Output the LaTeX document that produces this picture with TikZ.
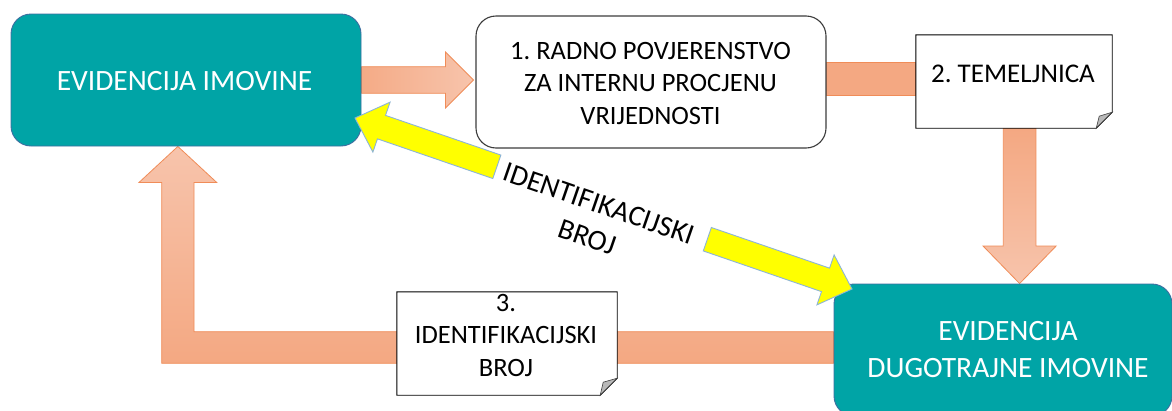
\documentclass[tikz,border=0pt]{standalone}
\usepackage{fontspec}
\setmainfont{Carlito}
\usetikzlibrary{calc}
\definecolor{teal1}{RGB}{0,164,166}
\definecolor{tealborder}{RGB}{62,110,160}
\definecolor{salmon}{RGB}{244,168,130}
\definecolor{peachlight}{RGB}{247,196,172}
\definecolor{orangeline}{RGB}{240,140,88}
\definecolor{yel}{RGB}{255,255,0}
\definecolor{yelline}{RGB}{140,180,215}
\definecolor{boxline}{RGB}{60,60,60}
\definecolor{foldgray}{RGB}{185,185,185}
\pgfdeclarelayer{bg}\pgfdeclarelayer{arrows}\pgfdeclarelayer{front}
\pgfsetlayers{bg,arrows,main,front}
\frenchspacing
\begin{document}
\begin{tikzpicture}[x=1pt,y=-1pt,
  tealbox/.style={rectangle, rounded corners=20pt, fill=teal1, draw=tealborder, line width=0.9pt, inner sep=0pt, minimum width=#1},
  whitebox/.style={rectangle, rounded corners=20pt, fill=white, draw=boxline, line width=1.1pt, inner sep=0pt, minimum width=350pt, minimum height=132pt},
  anchorbox/.style={rectangle, inner sep=0pt},
  docshape/.style={fill=white, draw=black, line width=0.9pt},
  docfold/.style={fill=foldgray, draw=black!75, line width=0.6pt},
  whitetext/.style={text=white, align=center, inner sep=0pt, font=\fontsize{29.5}{36.3}\selectfont},
  blacktext/.style={text=black, align=center, inner sep=0pt, font=\fontsize{26.5}{32.8}\selectfont},
  labeltext/.style={text=black, align=center, inner sep=0pt, font=\fontsize{29}{35.7}\selectfont},
  salmonbar/.style={fill=salmon, draw=orangeline, line width=0.8pt},
  yellowarrow/.style={fill=yel, draw=yelline, line width=0.9pt, line join=miter},
]
\begin{pgfonlayer}{bg}
\fill[white] (0,0) rectangle (1172,410);
\end{pgfonlayer}
\useasboundingbox (0,0) rectangle (1172,410);

% boxes
\node[tealbox=350pt, minimum height=132pt] (A) at (186,80) {};
\node[whitebox] (B) at (651,82) {};
\node[anchorbox, minimum width=196pt, minimum height=93pt] (C) at (1014,81.5) {};
\node[tealbox=338pt, minimum height=132pt] (D) at (1003,350) {};
\node[anchorbox, minimum width=220pt, minimum height=103pt] (E) at (507,343.5) {};

% document shapes with folded corner
\draw[docshape] (C.north west) -- (C.north east) -- ($(C.south east)+(0,-16)$) -- ($(C.south east)+(-16,0)$) -- (C.south west) -- cycle;
\draw[docfold] ($(C.south east)+(0,-16)$) -- ($(C.south east)+(-13,-12)$) -- ($(C.south east)+(-16,0)$) -- cycle;
\draw[docshape] (E.north west) -- (E.north east) -- ($(E.south east)+(0,-17)$) -- ($(E.south east)+(-17,0)$) -- (E.south west) -- cycle;
\draw[docfold] ($(E.south east)+(0,-17)$) -- ($(E.south east)+(-14,-13)$) -- ($(E.south east)+(-17,0)$) -- cycle;

% connectors (block arrows) on the arrow layer
\coordinate (ab0) at (A.east);
\coordinate (ab1) at ([xshift=-2pt]B.west |- A.east);
\coordinate (cd0) at ([xshift=5.6pt]C.south);
\coordinate (cd1) at (cd0 |- D.north);
\coordinate (la0) at ([yshift=2.5pt]D.west);
\coordinate (la1) at ([xshift=-8.15pt]A.south);
\coordinate (lc) at (la1 |- la0);
\begin{pgfonlayer}{arrows}
\draw[draw=orangeline, line width=0.8pt, left color=salmon!90!peachlight, right color=peachlight]
  ($(ab0)+(0,-13.3)$) -- ($(ab1)+(-28,-13.3)$) -- ($(ab1)+(-28,-28)$) -- (ab1)
  -- ($(ab1)+(-28,28)$) -- ($(ab1)+(-28,13.3)$) -- ($(ab0)+(0,13.3)$) -- cycle;
\draw[salmonbar] ($(B.east)+(0,-19.3)$) rectangle ($(C.west)+(0,13.5)$);
\draw[draw=orangeline, line width=0.8pt, top color=salmon, bottom color=peachlight]
  ($(cd0)+(-16.3,0)$) -- ($(cd1)+(-16.3,-37.5)$) -- ($(cd1)+(-36.5,-37.5)$) -- (cd1)
  -- ($(cd1)+(36.5,-37.5)$) -- ($(cd1)+(16.3,-37.5)$) -- ($(cd0)+(16.3,0)$) -- cycle;
\draw[draw=orangeline, line width=0.8pt, top color=peachlight, bottom color=salmon]
  ($(la0)+(0,-15.8)$) -- ($(lc)+(16.15,-15.8)$) -- ($(la1)+(16.15,36)$) -- ($(la1)+(38.85,36)$)
  -- (la1) -- ($(la1)+(-38.85,36)$) -- ($(la1)+(-16.15,36)$) -- ($(lc)+(-16.15,15.8)$)
  -- ($(la0)+(0,15.8)$) -- cycle;
\end{pgfonlayer}

% yellow double arrow, broken by its label
\coordinate (yl) at (355,118);
\coordinate (yr) at (852,289);
\coordinate (lh) at ($(yl)!28pt!(yr)$);
\coordinate (ls) at ($(yl)!150pt!(yr)$);
\coordinate (rs) at ($(yr)!153pt!(yl)$);
\coordinate (rh) at ($(yr)!28pt!(yl)$);
\begin{pgfonlayer}{front}
\draw[yellowarrow] (yl) -- ($(lh)!26.4pt!90:(yr)$) -- ($(lh)!12.4pt!90:(yr)$) -- ($(ls)!12.4pt!90:(yr)$)
  -- ($(ls)!12.4pt!-90:(yr)$) -- ($(lh)!12.4pt!-90:(yr)$) -- ($(lh)!26.4pt!-90:(yr)$) -- cycle;
\draw[yellowarrow] (yr) -- ($(rh)!26.4pt!90:(yl)$) -- ($(rh)!12.4pt!90:(yl)$) -- ($(rs)!12.4pt!90:(yl)$)
  -- ($(rs)!12.4pt!-90:(yl)$) -- ($(rh)!12.4pt!-90:(yl)$) -- ($(rh)!26.4pt!-90:(yl)$) -- cycle;
\node[labeltext, rotate=-19] (ylab) at (593.2,220.5) {IDENTIFIKACIJSKI\\BROJ};

% texts
\node[whitetext] (At) at (184.5,80.9) {EVIDENCIJA IMOVINE};
\node[blacktext] (Bt) at (650.5,83.4) {1. RADNO POVJERENSTVO\\ZA INTERNU PROCJENU\\VRIJEDNOSTI};
\node[blacktext, font=\fontsize{27}{33}\selectfont] (Ct) at (1013,73.7) {2. TEMELJNICA};
\node[whitetext] (Dt) at (1008,349.4) {EVIDENCIJA\\DUGOTRAJNE IMOVINE};
\node[blacktext] (Et) at (506,335.4) {3.\\IDENTIFIKACIJSKI\\BROJ};
\end{pgfonlayer}
\end{tikzpicture}
\end{document}
